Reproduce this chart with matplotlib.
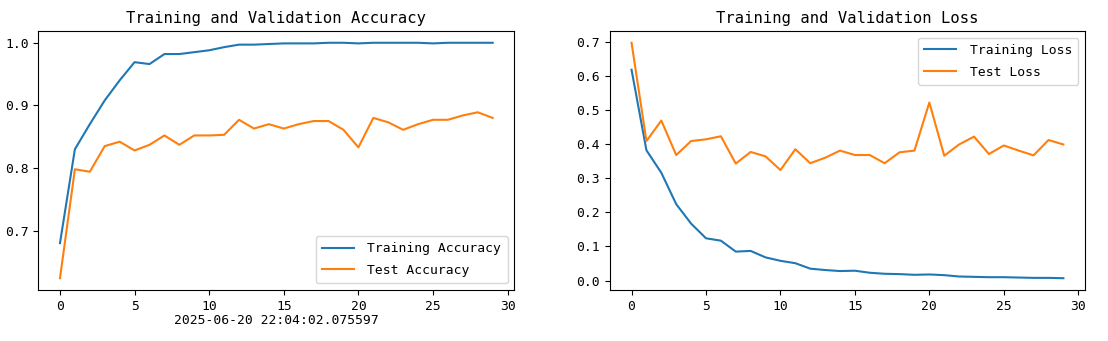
import numpy as np
import matplotlib
matplotlib.use("Agg")
import matplotlib.pyplot as plt

# ─── Dados ────────────────────────────────────────────────────────
epochs = list(range(30))

train_acc = [0.680, 0.830, 0.870, 0.908, 0.940, 0.969, 0.966, 0.982, 0.982, 0.985,
             0.988, 0.993, 0.997, 0.997, 0.998, 0.999, 0.999, 0.999, 1.000, 1.000,
             0.999, 1.000, 1.000, 1.000, 1.000, 0.999, 1.000, 1.000, 1.000, 1.000]
test_acc = [0.624, 0.798, 0.794, 0.835, 0.842, 0.828, 0.837, 0.852, 0.837, 0.852,
            0.852, 0.853, 0.877, 0.863, 0.870, 0.863, 0.870, 0.875, 0.875, 0.861,
            0.833, 0.880, 0.873, 0.861, 0.870, 0.877, 0.877, 0.884, 0.889, 0.880]

train_loss = [0.618, 0.382, 0.316, 0.224, 0.167, 0.124, 0.117, 0.085, 0.087, 0.068,
              0.058, 0.051, 0.035, 0.031, 0.028, 0.029, 0.023, 0.020, 0.019, 0.017,
              0.018, 0.016, 0.012, 0.011, 0.010, 0.010, 0.009, 0.008, 0.008, 0.007]
test_loss = [0.697, 0.409, 0.469, 0.368, 0.409, 0.414, 0.423, 0.343, 0.377, 0.364,
             0.324, 0.385, 0.344, 0.360, 0.381, 0.368, 0.368, 0.344, 0.376, 0.381,
             0.522, 0.366, 0.399, 0.422, 0.371, 0.396, 0.381, 0.367, 0.412, 0.399]

timestamp = "2025-06-20 22:04:02.075597"

plt.rcParams["font.family"] = ["DejaVu Sans Mono"]
plt.rcParams["font.size"] = 9.4

LEG = dict(handlelength=2.45, handletextpad=1.0, labelspacing=0.65, borderpad=0.5)

fig = plt.figure(figsize=(11.08, 3.41), dpi=100)
ax1 = fig.add_axes([0.0346, 0.1496, 0.4296, 0.7595])
ax2 = fig.add_axes([0.5505, 0.1496, 0.4287, 0.7595])

# ─── Acurácia ─────────────────────────────────────────────────────
ax1.plot(epochs, train_acc, label="Training Accuracy")
ax1.plot(epochs, test_acc, label="Test Accuracy")
ax1.legend(loc="lower right", **LEG)
ax1.set_title("Training and Validation Accuracy", fontsize=11.2)
ax1.set_xlabel(timestamp, labelpad=1)
ax1.set_yticks([0.7, 0.8, 0.9, 1.0])

# ─── Loss ─────────────────────────────────────────────────────────
ax2.plot(epochs, train_loss, label="Training Loss")
ax2.plot(epochs, test_loss, label="Test Loss")
ax2.legend(loc="upper right", **LEG)
ax2.set_title("Training and Validation Loss", fontsize=11.2)

for ax in (ax1, ax2):
    ax.set_xticks([0, 5, 10, 15, 20, 25, 30])

fig.savefig("out.png", dpi=100)
